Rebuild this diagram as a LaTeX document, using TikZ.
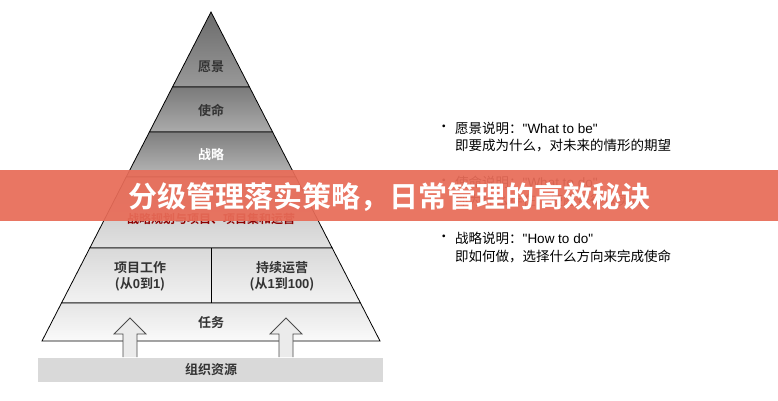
\documentclass[tikz,border=0pt]{standalone}
\usepackage{fontspec}
\setmainfont{Noto Sans CJK SC}
\newfontfamily\cjkbold{Noto Sans CJK SC Bold}
\newfontfamily\lat{Liberation Sans}
\usetikzlibrary{positioning}
\definecolor{bannerred}{RGB}{232,108,88}
\tikzset{
  band/.style={draw=black,line width=0.8pt,shading=axis,shading angle=0},
  lbl/.style={font=\cjkbold\fontsize{13}{16}\selectfont,text=black!80},
  note/.style={font=\fontsize{13.5}{16}\selectfont,anchor=west,inner sep=0pt},
  upar/.style={draw=black!70,fill=black!8,line width=0.8pt}
}
\begin{document}
\begin{tikzpicture}[x=1pt,y=-1pt]
\useasboundingbox (0,0) rectangle (778,400);
\fill[white] (0,0) rectangle (778,400);

\coordinate (apex) at (211,12);
\coordinate (l1) at (172.5,87);  \coordinate (r1) at (249.5,87);
\coordinate (l2) at (149.4,132); \coordinate (r2) at (272.6,132);
\coordinate (l3) at (126.2,177); \coordinate (r3) at (295.8,177);
\coordinate (l4) at (89.8,248);  \coordinate (r4) at (332.2,248);
\coordinate (l5) at (61.5,303);  \coordinate (r5) at (360.5,303);
\coordinate (l6) at (42,341);    \coordinate (r6) at (380,341);

\path[band,top color=black!58,bottom color=black!40] (apex) -- (r1) -- (l1) -- cycle;
\path[band,top color=black!52,bottom color=black!33] (l1) -- (r1) -- (r2) -- (l2) -- cycle;
\path[band,top color=black!50,bottom color=black!28] (l2) -- (r2) -- (r3) -- (l3) -- cycle;
\path[band,top color=black!25,bottom color=black!12] (l3) -- (r3) -- (r4) -- (l4) -- cycle;
\path[band,top color=black!15,bottom color=black!5] (l4) -- (r4) -- (r5) -- (l5) -- cycle;
\path[band,top color=black!10,bottom color=black!2] (l5) -- (r5) -- (r6) -- (l6) -- cycle;
\draw[line width=0.8pt] (211,248) coordinate (dtop) -- (211,303) coordinate (dbot);

\node[lbl] (vision) at (211,67) {愿景};
\node[lbl] (mission) at (211,110) {使命};
\node[lbl,text=white] (strategy) at (211,155) {战略};
\node[lbl,text=red!55!black,font=\cjkbold\fontsize{12}{14}\selectfont] (planline) at (211,219) {战略规划与项目、项目集和运营};
\node[lbl,align=center] (project) at (140,276) {项目工作\\(从{\lat\bfseries 0}到{\lat\bfseries 1})};
\node[lbl,align=center] (ops) at (282,276) {持续运营\\(从{\lat\bfseries 1}到{\lat\bfseries 100})};
\node[lbl] (task) at (211,323) {任务};

\fill[black!15] (38,358) rectangle (383,382);
\node[lbl] (res) at (211,370) {组织资源};

\foreach \x in {130,286}
  {\path[upar] (\x-7,357) -- (\x-7,334) -- (\x-16,334) -- (\x,318)
     -- (\x+16,334) -- (\x+7,334) -- (\x+7,357);}

\node[note] (b1) at (437,128) {•};
\node[note] (t1) at (455,128) {愿景说明：{\lat "What to be"}};
\node[note] (t1b) at (455,146) {即要成为什么，对未来的情形的期望};
\node[note] (b2) at (437,182) {•};
\node[note] (t2) at (455,182) {使命说明：{\lat "What to do"}};
\node[note] (t2b) at (455,200) {即为什么存在，使愿景得以实现};
\node[note] (b3) at (437,238) {•};
\node[note] (t3) at (455,238) {战略说明：{\lat "How to do"}};
\node[note] (t3b) at (455,256) {即如何做，选择什么方向来完成使命};

\fill[bannerred,opacity=0.93] (0,170) rectangle (778,221);
\node[font=\cjkbold\fontsize{29}{34}\selectfont,text=white] (title) at (389,197)
  {分级管理落实策略，日常管理的高效秘诀};
\end{tikzpicture}
\end{document}
